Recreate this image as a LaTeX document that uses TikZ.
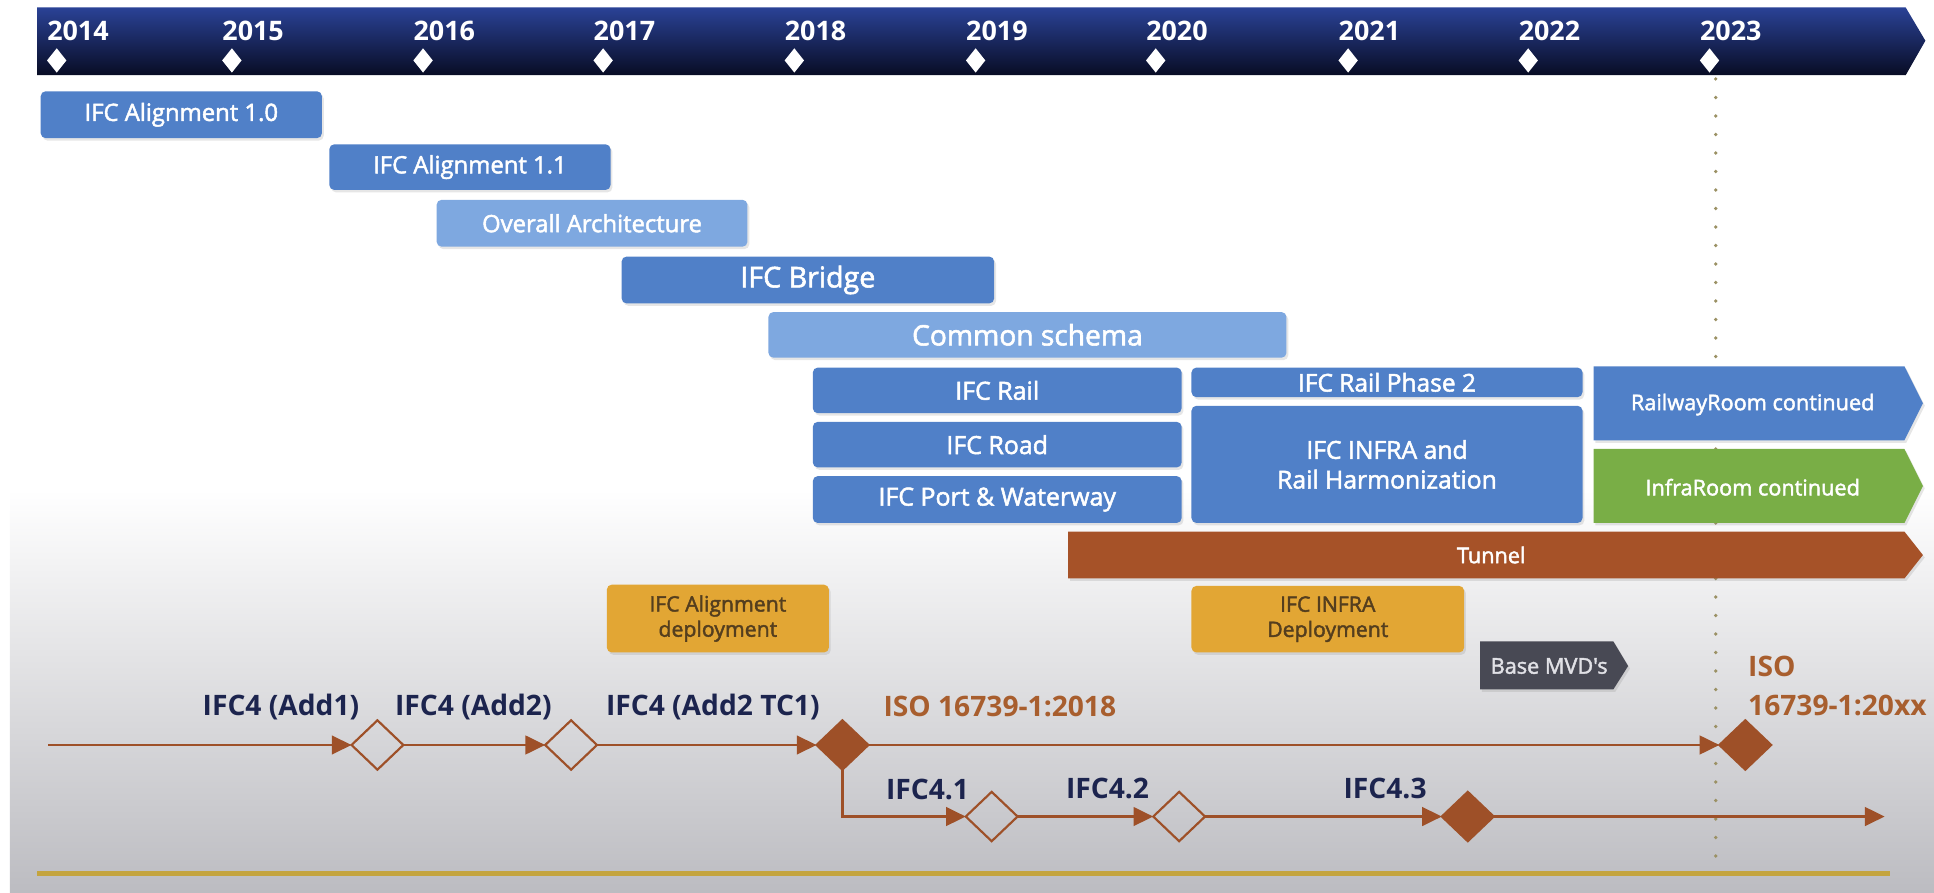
\documentclass[tikz,border=0pt]{standalone}
\usepackage{fontspec}
\setmainfont{Open Sans}
\newfontfamily\semib{Open Sans}[FakeBold=2]
\usetikzlibrary{arrows.meta, positioning, shapes.geometric, shadows}
\definecolor{barblue}{RGB}{80,128,200}
\definecolor{lightblue}{RGB}{126,168,224}
\definecolor{roomgreen}{RGB}{121,174,70}
\definecolor{tunnelbrown}{RGB}{166,82,40}
\definecolor{deploygold}{RGB}{226,166,52}
\definecolor{deploytext}{RGB}{84,62,30}
\definecolor{mvdgray}{RGB}{72,73,84}
\definecolor{mvdtext}{RGB}{225,225,230}
\definecolor{navytop}{RGB}{42,66,150}
\definecolor{navybot}{RGB}{8,12,36}
\definecolor{labelnavy}{RGB}{28,36,78}
\definecolor{isobrown}{RGB}{168,94,46}
\definecolor{linebrown}{RGB}{158,80,40}
\definecolor{goldline}{RGB}{196,164,62}
\definecolor{dotolive}{RGB}{155,145,100}
\definecolor{bggray}{RGB}{188,188,193}
\newcommand{\fs}[2]{\fontsize{#1}{#2}\selectfont}

\begin{document}
\begin{tikzpicture}[
        x=0.2mm, y=-0.2mm,
        bar/.style={rectangle, rounded corners=0.8mm, fill=barblue, text=white,
                    inner sep=0pt, align=center,
                    drop shadow={shadow xshift=0.3mm, shadow yshift=-0.4mm, opacity=0.2}},
        lightbar/.style={bar, fill=lightblue},
        deploy/.style={bar, fill=deploygold, text=deploytext, font=\semib\fs{9.8}{11.6}},
        arrowbar/.style={fill=barblue,
                    drop shadow={shadow xshift=0.3mm, shadow yshift=-0.4mm, opacity=0.2}},
        txt/.style={inner sep=0pt, text=white, align=center},
        yearlbl/.style={anchor=west, inner sep=0pt, text=white, font=\bfseries\fs{12.4}{14}},
        yeartick/.style={diamond, fill=white, inner sep=0pt, minimum width=3.2mm, minimum height=4mm},
        rellbl/.style={anchor=west, inner sep=0pt, text=labelnavy, font=\bfseries\fs{13}{15}},
        isolbl/.style={rellbl, text=isobrown},
        ms/.style={diamond, draw=linebrown, line width=0.35mm, inner sep=0pt, outer sep=0pt,
                   minimum width=8.4mm, minimum height=8mm},
        msfill/.style={ms, fill=linebrown},
        flowline/.style={linebrown, line width=0.45mm, -{Triangle[length=3.2mm, width=3mm]}},
        dotline/.style={dotolive, line width=0.6mm, line cap=round, dash pattern=on 0pt off 3mm},
    ]
        \useasboundingbox (0,0) rectangle (1568,724);

        % grey backdrop behind the releases
        \shade[top color=white, bottom color=bggray] (8,397) rectangle (1568,724);

        % year axis
        \shade[top color=navytop, bottom color=navybot]
            (30,6) -- (1545,6) -- (1561,33) -- (1545,61) -- (30,61) -- cycle;
        \foreach \yr/\x in {2014/38, 2015/180, 2016/335, 2017/481, 2018/636,
                            2019/783, 2020/929, 2021/1085, 2022/1231, 2023/1378} {
            \node[yearlbl] (y\yr) at (\x,25) {\yr};
            \node[yeartick] (t\yr) at (\x+8,49) {};
        }
        \coordinate (dottop) at (1391,64);
        \coordinate (dotbot) at (1391,708);
        \draw[dotline] (dottop) -- (dotbot);

        % projects
        \node[bar, minimum width=45.6mm, minimum height=7.6mm, font=\semib\fs{11}{13}] (align10) at (147,93) {IFC Alignment 1.0};
        \node[bar, minimum width=45.6mm, minimum height=7.4mm, font=\semib\fs{11}{13}] (align11) at (381,135.5) {IFC Alignment 1.1};
        \node[lightbar, minimum width=50.4mm, minimum height=7.6mm, font=\semib\fs{11}{13}] (arch) at (480,181) {Overall Architecture};
        \node[bar, minimum width=60.4mm, minimum height=7.6mm, font=\semib\fs{13.2}{15}] (bridge) at (655,227) {IFC Bridge};
        \node[lightbar, minimum width=84mm, minimum height=7.4mm, font=\semib\fs{13}{15}] (common) at (833,271.5) {Common schema};
        \node[bar, minimum width=59.8mm, minimum height=7.4mm, font=\semib\fs{11.5}{13}] (rail) at (808.5,316.5) {IFC Rail};
        \node[bar, minimum width=59.8mm, minimum height=7.4mm, font=\semib\fs{11.5}{13}] (road) at (808.5,360.5) {IFC Road};
        \node[bar, minimum width=59.8mm, minimum height=7.6mm, font=\semib\fs{11.5}{13}] (port) at (808.5,405) {IFC Port \& Waterway};
        \node[bar, minimum width=63.4mm, minimum height=4.8mm, font=\semib\fs{11.3}{13}] (rail2) at (1124.5,310) {IFC Rail Phase 2};
        \node[bar, minimum width=63.4mm, minimum height=19mm, font=\semib\fs{11.4}{13.7}] (harmon) at (1124.5,376.5) {IFC INFRA and\\Rail Harmonization};

        % continued work
        \path[arrowbar] (1292,297) -- (1544,297) -- (1559,327) -- (1544,357) -- (1292,357) -- cycle;
        \node[txt, font=\semib\fs{10}{12}] (railroom) at (1421,328) {RailwayRoom continued};
        \path[arrowbar, fill=roomgreen] (1292,364) -- (1544,364) -- (1559,394) -- (1544,424) -- (1292,424) -- cycle;
        \node[txt, font=\semib\fs{10}{12}] (infraroom) at (1421,395) {InfraRoom continued};
        \path[arrowbar, fill=tunnelbrown] (866,431) -- (1544,431) -- (1559,450) -- (1544,469) -- (866,469) -- cycle;
        \node[txt, font=\semib\fs{10}{12}] (tunnel) at (1209,450) {Tunnel};

        % deployment
        \node[deploy, minimum width=36mm, minimum height=11mm] (aldeploy) at (582,501.5) {IFC Alignment\\deployment};
        \node[deploy, minimum width=44.2mm, minimum height=10.8mm] (infradeploy) at (1076.5,502) {IFC INFRA\\Deployment};
        \path[arrowbar, fill=mvdgray] (1200,520) -- (1308,520) -- (1320,540) -- (1308,559) -- (1200,559) -- cycle;
        \node[txt, text=mvdtext, font=\semib\fs{10}{12}] (mvd) at (1256,540) {Base MVD's};

        % releases
        \coordinate (mstart) at (39,604);
        \node[ms] (add1) at (306,604) {};
        \node[ms] (add2) at (463,604) {};
        \node[msfill] (tc1) at (683,604) {};
        \node[msfill] (iso20) at (1415,604) {};
        \node[ms] (v41) at (804,662) {};
        \node[ms] (v42) at (956,662) {};
        \node[msfill] (v43) at (1190,662) {};
        \coordinate (mend) at (1528,662);

        \draw[flowline] (mstart) -- (add1);
        \draw[flowline] (add1) -- (add2);
        \draw[flowline] (add2) -- (tc1);
        \draw[flowline] (tc1) -- (iso20);
        \draw[flowline] (tc1.south) |- (v41);
        \draw[flowline] (v41) -- (v42);
        \draw[flowline] (v42) -- (v43);
        \draw[flowline] (v43) -- (mend);

        \node[rellbl] (ladd1) at (164,573) {IFC4 (Add1)};
        \node[rellbl] (ladd2) at (320,573) {IFC4 (Add2)};
        \node[rellbl] (ltc1) at (491,573) {IFC4 (Add2 TC1)};
        \node[isolbl] (liso18) at (716,573) {ISO 16739-1:2018};
        \node[isolbl] (liso) at (1417,540) {ISO};
        \node[isolbl] (liso2x) at (1417,572) {16739-1:20xx};
        \node[rellbl] (l41) at (718,640) {IFC4.1};
        \node[rellbl] (l42) at (864,639) {IFC4.2};
        \node[rellbl] (l43) at (1089,639) {IFC4.3};

        % base line
        \draw[goldline, line width=0.8mm] (30,708) -- (1532,708);

    \end{tikzpicture}
\end{document}
